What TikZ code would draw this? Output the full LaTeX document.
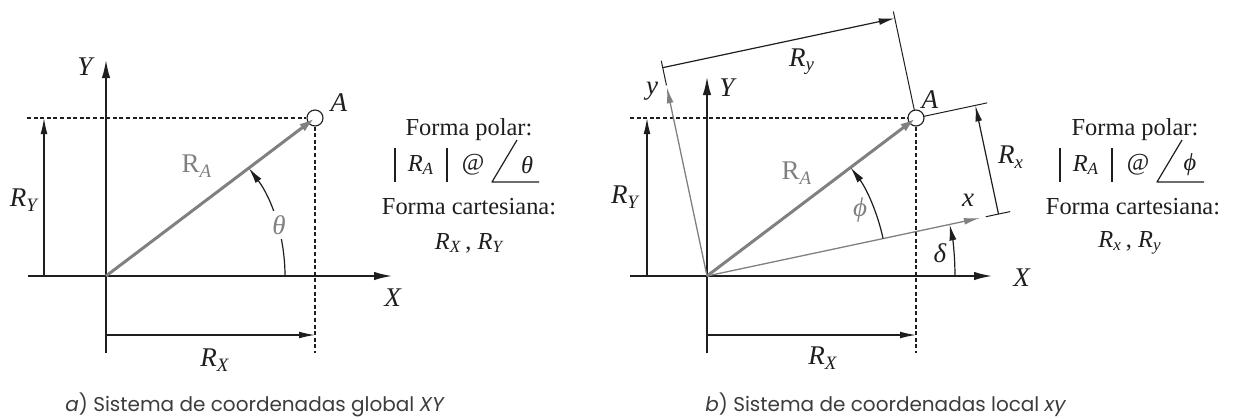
\documentclass[tikz,border=0pt]{standalone}
\usepackage{fontspec}
\usepackage{amsmath}
\setmainfont{Liberation Serif}
\newfontfamily\capfont{Poppins}
\usetikzlibrary{arrows.meta,calc}
\definecolor{ink}{RGB}{30,30,30}
\definecolor{gry}{RGB}{128,128,128}
\definecolor{capgray}{RGB}{60,60,60}
\newcommand\Rs[2]{\textit{#1}$_{\textit{#2}}$}
\newcommand\RA{{\color{gry}R$_{\textit{A}}$}}
\begin{document}
\begin{tikzpicture}[x=0.5pt, y=-0.5pt, line join=round,
  axis/.style={ink, line width=0.75pt, -{Latex[length=9pt,width=4.2pt]}},
  dim/.style={ink, line width=0.6pt, -{Latex[length=8pt,width=3.4pt]}},
  ext/.style={ink, line width=0.5pt},
  dsh/.style={ink, line width=0.6pt, dash pattern=on 2pt off 1.3pt},
  garrow/.style={gry, line width=1.5pt, -{Latex[length=8pt,width=4.4pt]}},
  gaxis/.style={gry, line width=0.65pt, -{Latex[length=8pt,width=3.4pt]}},
  angarc/.style={ink, line width=0.6pt, -{Latex[length=8pt,width=3.6pt]}},
  lab/.style={font=\fontsize{13.5}{15}\selectfont, text=ink, inner sep=1pt},
  txt/.style={font=\fontsize{12.2}{14}\selectfont, text=ink, inner sep=0pt},
  captxt/.style={font=\capfont\fontsize{10}{12}\selectfont, text=capgray, anchor=west, inner sep=0pt},
  ptA/.style={circle, draw=ink, line width=0.55pt, minimum size=8pt, inner sep=0pt},
  sym/.style={ink, line width=0.6pt}]
\useasboundingbox (0,0) rectangle (1233,419);

% ================= panel a =================
\coordinate (Oa) at (106,276);
\node[ptA] (A1) at (315,118) {};
\coordinate (Ya0) at (106,353); \coordinate (Ya1) at (106,60);
\coordinate (Xa0) at (28,276);  \coordinate (Xa1) at (392,276);
\draw[axis] (Ya0) -- (Ya1);
\draw[axis] (Xa0) -- (Xa1);
\coordinate (Da0) at (27,118); \coordinate (Da1) at (315,353);
\draw[dsh] (Da0) -- (A1.west);
\draw[dsh] (A1.south) -- (Da1);
\draw[garrow] (Oa) -- (A1.center);
\coordinate (RYa0) at (44,276); \coordinate (RYa1) at (44,118);
\draw[dim] (RYa0) -- (RYa1);
\coordinate (RXa0) at (106,335); \coordinate (RXa1) at (315,335);
\draw[dim] (RXa0) -- (RXa1);
\draw[angarc] (Oa) ++(0:89.5pt) arc[start angle=0, end angle=37.09, radius=89.5pt];
\node[lab, fill=white, text=gry, inner sep=2pt] (tha) at (279,225) {\textit{θ}};
\node[lab] (Ya) at (86,67) {\textit{Y}};
\node[lab] (Xa) at (393,298) {\textit{X}};
\node[lab] (lA1) at (339,103) {\textit{A}};
\node[lab] (RAa) at (197,166) {\RA};
\node[lab] (RYa) at (24,200) {\Rs{R}{Y}};
\node[lab] (RXa) at (215,360) {\Rs{R}{X}};

% text block a
\node[txt] (fpa) at (469,130) {Forma polar:};
\node[txt] (rva) at (421,165) {\Rs{R}{A}};
\node[txt] (ata) at (473,165) {@};
\node[txt] (tta) at (527,165) {\textit{θ}};
\draw[sym] (395,148) -- (395,182);
\draw[sym] (447,148) -- (447,182);
\draw[sym] (517,140) -- (492,182) -- (539,182);
\node[txt] (fca) at (469,207) {Forma cartesiana:};
\node[txt] (rca) at (469,243) {\Rs{R}{X}\,, \Rs{R}{Y}};

% ================= panel b =================
\coordinate (Ob) at (707,276);
\node[ptA] (A2) at (916,118) {};
\coordinate (Yb0) at (707,353); \coordinate (Yb1) at (707,77);
\coordinate (Xb0) at (630,276); \coordinate (Xb1) at (992,276);
\draw[axis] (Yb0) -- (Yb1);
\draw[axis] (Xb0) -- (Xb1);
\coordinate (Db0) at (630,118); \coordinate (Db1) at (916,353);
\draw[dsh] (Db0) -- (A2.west);
\draw[dsh] (A2.south) -- (Db1);
\coordinate (RYb0) at (647,276); \coordinate (RYb1) at (647,118);
\draw[dim] (RYb0) -- (RYb1);
\coordinate (RXb0) at (707,335); \coordinate (RXb1) at (916,335);
\draw[dim] (RXb0) -- (RXb1);

% local frame, rotated by delta = 12 deg
\begin{scope}[shift={(Ob)}, rotate=12, x=0.5pt, y=0.5pt]
  \coordinate (xo) at (0,0);
  \coordinate (xl) at (279,0);
  \coordinate (yl) at (0,193);
  \draw[gaxis] (xo) -- (xl);
  \draw[gaxis] (xo) -- (yl);
  % extension lines
  \coordinate (ey0) at (0,195);   \coordinate (ey1) at (0,220);
  \coordinate (eA0) at (237.28,119); \coordinate (eA1) at (237.28,220);
  \draw[ext] (ey0) -- (ey1);
  \draw[ext] (eA0) -- (eA1);
  \coordinate (ex0) at (285,0);   \coordinate (ex1) at (310,0);
  \coordinate (eB0) at (245.5,111.09); \coordinate (eB1) at (310,111.09);
  \draw[ext] (ex0) -- (ex1);
  \draw[ext] (eB0) -- (eB1);
  % dimension lines
  \coordinate (dy0) at (0,213); \coordinate (dy1) at (237.28,213);
  \draw[dim] (dy0) -- (dy1);
  \coordinate (dx0) at (298,0); \coordinate (dx1) at (298,111.09);
  \draw[dim] (dx0) -- (dx1);
\end{scope}

\draw[garrow] (Ob) -- (A2.center);
\draw[angarc] (Ob) ++(12:90pt) arc[start angle=12, end angle=37.09, radius=90pt];
\draw[angarc] (Ob) ++(0:124pt) arc[start angle=0, end angle=12, radius=124pt];

\node[lab] (Yb) at (728,88) {\textit{Y}};
\node[lab] (Xb) at (1022,278) {\textit{X}};
\node[lab] (lA2) at (930,100) {\textit{A}};
\node[lab] (RAb) at (797,173) {\RA};
\node[lab] (RYb) at (625,197) {\Rs{R}{Y}};
\node[lab] (RXb) at (823,358) {\Rs{R}{X}};
\node[lab] (xlb) at (968,200) {\textit{x}};
\node[lab] (ylb) at (652,91) {\textit{y}};
\node[lab] (Rxl) at (1011,157) {\Rs{R}{x}};
\node[lab] (Ryl) at (802,62) {\Rs{R}{y}};
\node[lab, text=gry] (phb) at (860,210) {\textit{ϕ}};
\node[lab] (deb) at (940,253) {\textit{δ}};

% text block b
\node[txt] (fpb) at (1135,130) {Forma polar:};
\node[txt] (rvb) at (1086,165) {\Rs{R}{A}};
\node[txt] (atb) at (1138,165) {@};
\node[txt] (ttb) at (1190,165) {\textit{ϕ}};
\draw[sym] (1060,148) -- (1060,182);
\draw[sym] (1112,148) -- (1112,182);
\draw[sym] (1182,140) -- (1157,182) -- (1204,182);
\node[txt] (fcb) at (1133,207) {Forma cartesiana:};
\node[txt] (rcb) at (1130,243) {\Rs{R}{x}\,, \Rs{R}{y}};

% captions
\node[captxt] (capa) at (65,405) {\textit{a}) Sistema de coordenadas global \textit{XY}};
\node[captxt] (capb) at (705,405) {\textit{b}) Sistema de coordenadas local \textit{xy}};
\end{tikzpicture}
\end{document}
